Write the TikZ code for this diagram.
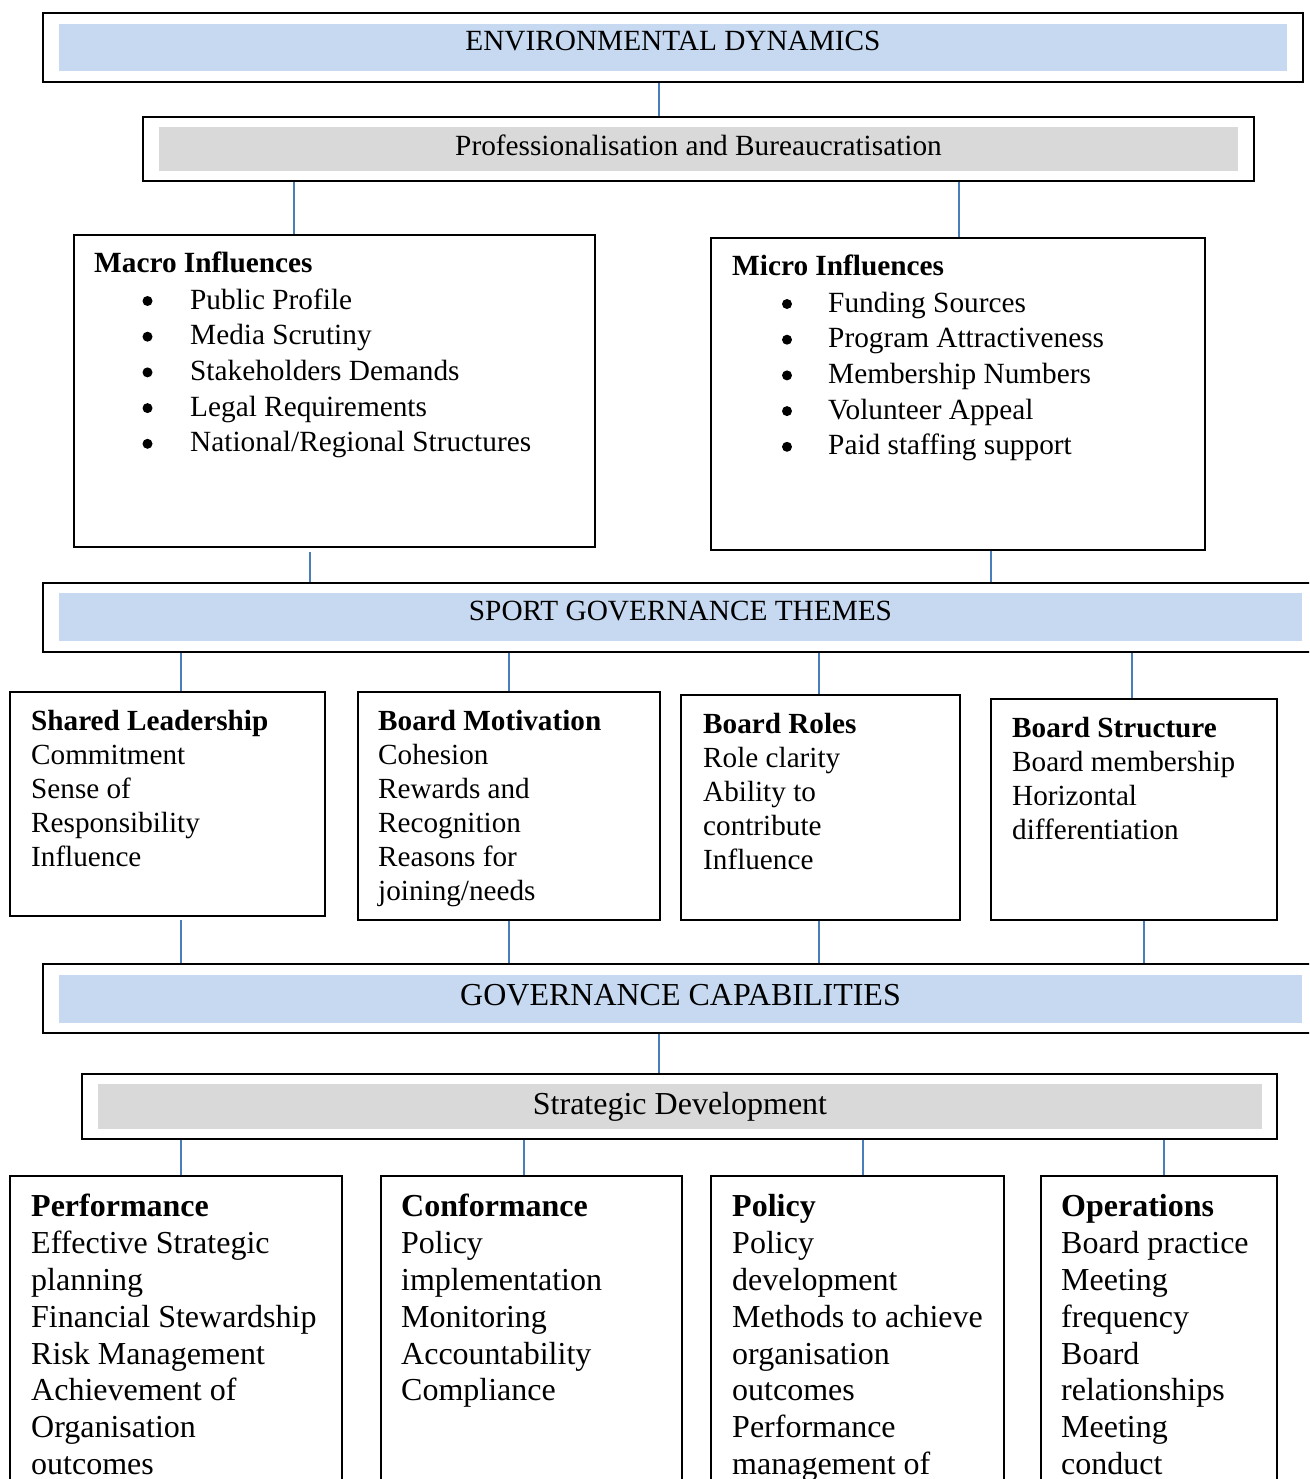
\documentclass[tikz,border=0pt]{standalone}
\usepackage{fontspec}
\setmainfont{Liberation Serif}
\usetikzlibrary{fit,backgrounds}
\definecolor{bandblue}{HTML}{C6D9F0}
\definecolor{bandgrey}{HTML}{D9D9D9}
\definecolor{linkblue}{HTML}{4A7EBB}
\tikzset{
  frame/.style={draw=black, line width=2pt, rectangle, inner sep=0pt, outer sep=0pt},
  band/.style={rectangle, inner sep=0pt, outer sep=0pt},
  link/.style={draw=linkblue, line width=2.4pt},
  uptext/.style={inner sep=0pt, font=\fontsize{29.3}{35.7}\selectfont},
  uphead/.style={inner sep=0pt, anchor=base west, font=\fontsize{29.3}{35.7}\selectfont\bfseries},
  bigtext/.style={inner sep=0pt, font=\fontsize{32}{36.8}\selectfont},
  themetext/.style={inner sep=0pt, align=left, anchor=north west, font=\fontsize{29.2}{34}\selectfont},
  captext/.style={inner sep=0pt, align=left, anchor=north west, font=\fontsize{32}{36.8}\selectfont},
}
\begin{document}
\begin{tikzpicture}[x=1pt, y=-1pt]
\useasboundingbox (0,0) rectangle (1309,1479);
\clip (0,0) rectangle (1309,1479);

% ---- environmental level
\node[frame, fit={(43,13) (1303,82)}] (env) {};
\node[band, fill=bandblue, fit={(59,24) (1287,71.5)}] (envband) {};
\node[uptext, anchor=base] (envtext) at (673,51) {ENVIRONMENTAL DYNAMICS};

\node[frame, fit={(143,117) (1254,181.5)}] (prof) {};
\node[band, fill=bandgrey, fit={(159,127) (1238,171)}] (profband) {};
\node[uptext, anchor=base] (proftext) at (698.5,156) {Professionalisation and Bureaucratisation};

% ---- macro and micro influences
\node[frame, fit={(74,235) (595,547)}] (macro) {};
\node[uphead] (macrohead) at (94,272) {Macro Influences};
\node[uptext, align=left, anchor=north west] (macrolist) at (190,284) {\strut Public Profile\\Media Scrutiny\\Stakeholders Demands\\Legal Requirements\\National/Regional Structures};
\foreach \k in {0,...,4} \fill (147.5,301+35.7*\k) circle (5pt);

\node[frame, fit={(711,238) (1205,550)}] (micro) {};
\node[uphead] (microhead) at (732,275) {Micro Influences};
\node[uptext, align=left, anchor=north west] (microlist) at (828,287) {\strut Funding Sources\\Program Attractiveness\\Membership Numbers\\Volunteer Appeal\\Paid staffing support};
\foreach \k in {0,...,4} \fill (787,304+35.7*\k) circle (5pt);

% ---- governance themes
\node[frame, fit={(43,582.5) (1330,651.5)}] (themes) {};
\node[band, fill=bandblue, fit={(59,593) (1302,641)}] (themesband) {};
\node[uptext, anchor=base] (themestext) at (680.5,620) {SPORT GOVERNANCE THEMES};

\node[frame, fit={(10,692) (325,916)}] (lead) {};
\node[themetext] (leadtext) at (31,706) {\strut\textbf{Shared Leadership}\\Commitment\\Sense of\\Responsibility\\Influence};
\node[frame, fit={(358,692) (660,920)}] (motiv) {};
\node[themetext] (motivtext) at (378,706) {\strut\textbf{Board Motivation}\\Cohesion\\Rewards and\\Recognition\\Reasons for\\joining/needs};
\node[frame, fit={(681,695) (960,920)}] (roles) {};
\node[themetext] (rolestext) at (703,709) {\strut\textbf{Board Roles}\\Role clarity\\Ability to\\contribute\\Influence};
\node[frame, fit={(991,699) (1277,920)}] (struct) {};
\node[themetext] (structtext) at (1012,713) {\strut\textbf{Board Structure}\\Board membership\\Horizontal\\differentiation};

% ---- governance capabilities
\node[frame, fit={(43,964) (1330,1033)}] (caps) {};
\node[band, fill=bandblue, fit={(59,975) (1302,1023)}] (capsband) {};
\node[bigtext, anchor=base] (capstext) at (680.5,1005) {GOVERNANCE CAPABILITIES};

\node[frame, fit={(82,1074) (1277,1139)}] (strat) {};
\node[band, fill=bandgrey, fit={(98,1084) (1262,1129)}] (stratband) {};
\node[bigtext, anchor=base] (strattext) at (680,1114) {Strategic Development};

\node[frame, fit={(10,1176) (342,1500)}] (perf) {};
\node[captext] (perftext) at (31,1191) {\strut\textbf{Performance}\\Effective Strategic\\planning\\Financial Stewardship\\Risk Management\\Achievement of\\Organisation\\outcomes};
\node[frame, fit={(381,1176) (682,1500)}] (conf) {};
\node[captext] (conftext) at (401,1191) {\strut\textbf{Conformance}\\Policy\\implementation\\Monitoring\\Accountability\\Compliance};
\node[frame, fit={(711,1176) (1004,1500)}] (pol) {};
\node[captext] (poltext) at (732,1191) {\strut\textbf{Policy}\\Policy\\development\\Methods to achieve\\organisation\\outcomes\\Performance\\management of};
\node[frame, fit={(1041,1176) (1277,1500)}] (ops) {};
\node[captext] (opstext) at (1061,1191) {\strut\textbf{Operations}\\Board practice\\Meeting\\frequency\\Board\\relationships\\Meeting\\conduct};

% ---- connectors, drawn beneath the frames
\begin{scope}[on background layer]
\fill[white] (0,0) rectangle (1309,1479);
\draw[link] (env.south -| 659,0) -- (prof.north -| 659,0);
\draw[link] (prof.south -| 294,0) -- (macro.north -| 294,0);
\draw[link] (prof.south -| 959,0) -- (micro.north -| 959,0);
\draw[link, shorten <=5pt] (macro.south -| 310,0) -- (themes.north -| 310,0);
\draw[link] (micro.south -| 991,0) -- (themes.north -| 991,0);
\draw[link] (themes.south -| 181,0) -- (lead.north -| 181,0);
\draw[link] (themes.south -| 509,0) -- (motiv.north -| 509,0);
\draw[link] (themes.south -| 819,0) -- (roles.north -| 819,0);
\draw[link] (themes.south -| 1132,0) -- (struct.north -| 1132,0);
\draw[link, shorten <=4pt] (lead.south -| 181,0) -- (caps.north -| 181,0);
\draw[link] (motiv.south -| 509,0) -- (caps.north -| 509,0);
\draw[link] (roles.south -| 819,0) -- (caps.north -| 819,0);
\draw[link] (struct.south -| 1144,0) -- (caps.north -| 1144,0);
\draw[link] (caps.south -| 659,0) -- (strat.north -| 659,0);
\draw[link] (strat.south -| 181,0) -- (perf.north -| 181,0);
\draw[link] (strat.south -| 524,0) -- (conf.north -| 524,0);
\draw[link] (strat.south -| 863,0) -- (pol.north -| 863,0);
\draw[link] (strat.south -| 1164,0) -- (ops.north -| 1164,0);
\end{scope}
\end{tikzpicture}
\end{document}
